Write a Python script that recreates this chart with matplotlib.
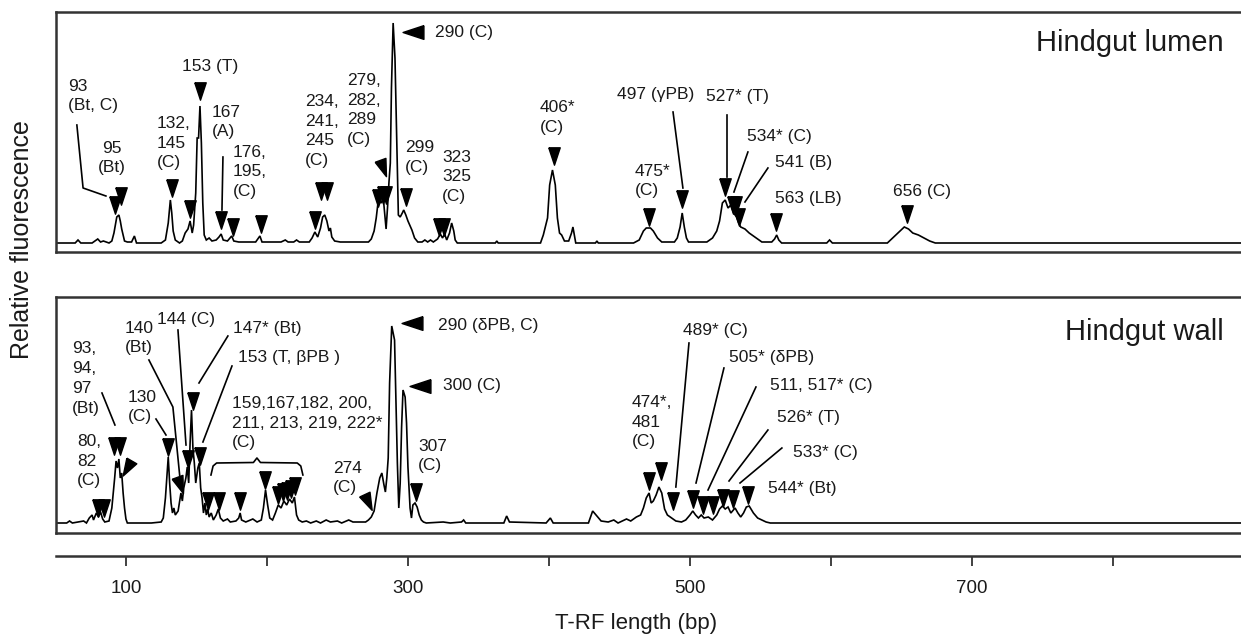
import matplotlib.pyplot as plt
from matplotlib.markers import MarkerStyle
from matplotlib.transforms import Affine2D
import numpy as np

plt.rcParams['font.family'] = ['Liberation Sans', 'DejaVu Sans']

# x range shown (bp)
x_min, x_max = 50.4, 890.8

# ---- Hindgut lumen trace (bp, relative fluorescence)
lumen_bp = [50, 64, 66, 68, 76, 78, 80, 82, 84, 88,
            90, 91.5, 92.5, 93.5, 95, 96, 97, 98, 99, 101, 104, 106, 107.5,
            125, 128, 130, 131.5, 132.5, 133.5, 135, 138, 140, 142, 144, 145.5, 147, 148,
            149.5, 150.5, 151.5, 152.5, 153.5, 154.5, 155.5, 157, 159, 161, 164, 166,
            167.5, 169, 172, 175, 176.5, 180, 186, 192, 195, 196.5, 205, 210, 213, 215,
            219, 221, 223, 230, 232, 234, 236, 238, 239.5, 241, 242.5, 244, 245, 246,
            248, 252, 265, 272, 274, 276, 277.5, 279, 281, 282.5, 283.5, 284.5, 285.5,
            286.5, 287.5, 288.3, 289.5, 290.8, 292.2, 293.2, 294.5, 296, 297, 298.5,
            300, 302.8, 304.7, 307, 310, 312, 314, 316, 318, 321, 323, 324.5, 326,
            327.5, 329.5, 331, 332.5, 333.5, 335, 362, 363, 364, 394, 396, 399, 400.5,
            402.5, 404.5, 406, 407.5, 409, 411, 414, 416, 417, 418, 419, 433, 434, 435,
            460, 464, 467, 469, 472, 474, 477, 480, 489, 491, 493, 494.5, 496, 497.5,
            499, 512, 516, 519, 521, 523, 525, 527, 529, 531, 533, 534.5, 536, 539,
            542, 545, 548, 551, 558, 560, 561.5, 563, 565, 597, 599, 601, 640, 643,
            646, 649, 652, 655, 658, 662, 666, 670, 674, 900]
lumen_rfu = [0, 0, 3, 0, 0, 2, 4, 1, 2, 0,
             2, 10, 18, 26, 28, 22, 14, 8, 2, 1, 1, 7, 0,
             0, 3, 20, 43, 30, 12, 3, 0, 2, 10, 14, 22, 10, 18,
             50, 105, 105, 137, 100, 40, 8, 3, 5, 2, 3, 6,
             9, 3, 2, 7, 2, 1, 1, 1, 7, 1, 1, 1, 3, 1,
             1, 3, 1, 1, 5, 11, 6, 15, 26, 28, 22, 12, 15, 6,
             2, 1, 1, 1, 4, 12, 25, 43, 40, 45, 30, 14, 35,
             60, 80, 155, 220, 185, 95, 28, 26, 30, 33, 28,
             22, 13, 5, 1, 1, 3, 1, 3, 1, 4, 9, 5, 9,
             3, 10, 20, 12, 3, 0, 0, 2, 0, 0, 8, 25, 58,
             73, 58, 25, 10, 8, 2, 2, 10, 16, 8, 0, 0, 2, 0,
             0, 3, 12, 15, 15, 12, 5, 1, 1, 5, 16, 30, 16, 5,
             1, 1, 5, 12, 22, 40, 43, 35, 38, 30, 26, 20, 16, 14,
             10, 7, 4, 1, 1, 4, 8, 3, 0, 0, 3, 0, 0, 4,
             8, 12, 16, 14, 10, 8, 5, 2, 0, 0]

# ---- Hindgut wall trace
wall_bp = [50, 58, 60, 62, 66, 70, 72, 74, 76, 77, 79, 80.5, 82, 83.5, 85, 88,
           90, 91, 92, 93, 94, 95, 96, 97, 98, 99, 100, 101, 118, 125, 126.5, 128,
           129, 130, 131, 132, 133, 134, 135, 137, 139, 140, 141, 142.5, 143.5, 144.5,
           145.5, 146.5, 147.5, 148.5, 149.5, 151, 152, 153, 154, 155, 156, 157, 158,
           159, 160.5, 162, 164, 165.5, 167, 169, 172, 174, 178, 180, 181, 182, 185,
           190, 193, 196, 197.5, 199, 200.5, 202, 204, 206, 208, 210, 212, 214, 216,
           218, 219.5, 221, 222.5, 225, 228, 231, 235, 238, 242, 245, 250, 253, 258,
           261, 266, 270, 272, 274, 276, 278, 280, 281.5, 283, 284, 285, 286, 287,
           288.5, 290.5, 291.5, 292.5, 293.5, 294.5, 295.5, 296.5, 298, 299, 300,
           301.5, 302.5, 303.5, 305, 306.5, 308, 309.5, 311, 313, 325, 330, 338,
           339.5, 341, 368, 370, 372, 398, 401, 403, 428, 431, 434, 437, 442, 446,
           449, 455, 458, 462, 465, 467, 469, 471, 472.5, 474, 476, 478, 480, 482,
           484, 486, 488, 490, 494, 497, 500, 502, 504, 506, 508, 510, 513, 516, 519,
           521, 523, 525, 527, 529, 532, 534, 536, 538, 540, 542, 545, 548, 551, 554,
           557, 900]
wall_rfu = [0, 0, 2, 0, 1, 2, 0, 5, 8, 3, 10, 6, 11, 4, 1, 2,
            15, 30, 45, 62, 55, 64, 45, 50, 30, 15, 4, 0, 0, 1, 5, 25,
            45, 66, 40, 20, 10, 15, 8, 12, 30, 22, 35, 45, 56, 40,
            80, 113, 75, 60, 40, 55, 60, 35, 25, 10, 20, 8, 14,
            6, 10, 3, 8, 14, 5, 2, 4, 1, 2, 5, 10, 3, 1,
            4, 1, 3, 15, 33, 18, 5, 3, 10, 18, 15, 22, 18, 24,
            20, 26, 8, 3, 1, 2, 0, 2, 0, 3, 1, 2, 0, 3,
            1, 1, 1, 3, 6, 12, 30, 45, 50, 38, 31, 45, 65, 140,
            197, 183, 120, 60, 15, 40, 96, 133, 126, 100, 56,
            15, 5, 18, 20, 16, 8, 3, 1, 0, 1, 0, 1,
            3, 0, 0, 7, 1, 0, 5, 0, 0, 12, 7, 2, 1, 3,
            0, 4, 2, 6, 8, 15, 25, 30, 20, 22, 28, 36, 30, 14,
            8, 6, 4, 2, 1, 3, 8, 12, 8, 5, 8, 5, 6, 3, 8,
            14, 17, 14, 16, 10, 15, 10, 6, 10, 16, 17, 10, 5, 3, 1,
            0, 0]

# ---- peak markers (bp, height, rotation in degrees; 0 = pointing down)
lumen_tri_bp = [92.2, 96.5, 132.6, 145.4, 152.5, 167.4, 175.9, 195.7, 234, 238.5,
                242.5, 278.7, 282.3, 284.4, 282.3, 303.5, 298.6, 322, 325.5, 403.5,
                470.9, 494.3, 524.8, 530.5, 532.5, 534.8, 561, 653.9]
lumen_tri_y = [38, 46.5, 54.5, 34, 152, 22.5, 16, 19, 23, 52,
               52, 45, 48, 48, 75, 211, 45.5, 16, 16, 87,
               25.5, 44, 55.5, 37.5, 37.5, 26, 20.5, 29]
lumen_tri_rot = [0, 0, 0, 0, 0, 0, 0, 0, 0, 0,
                 0, 0, 0, 0, 20, -90, 0, 0, 0, 0,
                 0, 0, 0, 0, 0, 0, 0, 0]

wall_tri_bp = [91.5, 95.7, 100.7, 80.1, 84.4, 129.8, 138.3, 144, 147.5, 152.5,
               158.2, 166, 180.9, 198.6, 207.8, 211.3, 214.2, 217, 219.9, 271.6,
               303.2, 308.9, 305.7, 470.9, 479.4, 488, 502.1, 509.2, 516.3, 523.4,
               530.5, 541.1]
wall_tri_y = [77.5, 77.5, 55.5, 15.5, 15.5, 76, 38, 64.5, 122, 67,
              22.5, 22.5, 22.5, 43, 28.5, 31.5, 32, 34, 37, 21.5,
              200, 137, 31.5, 42, 52, 22, 24, 18.5, 18.5, 25.5,
              24, 28]
wall_tri_rot = [0, 0, -30, 0, 0, 0, 20, 0, 0, 0,
                0, 0, 0, 0, 0, 0, 0, 0, 0, 25,
                -90, -90, 0, 0, 0, 0, 0, 0, 0, 0,
                0, 0]

# ---- peak labels (text, bp of left edge, height of block centre, alignment)
lumen_labels = [("93\n(Bt, C)", 58.9, 147, "left"),
                ("95\n(Bt)", 90.1, 85, "center"),
                ("132,\n145\n(C)", 122, 100, "left"),
                ("153 (T)", 139.7, 176, "left"),
                ("167\n(A)", 161, 121, "left"),
                ("176,\n195,\n(C)", 175.9, 71, "left"),
                ("234,\n241,\n245\n(C)", 227, 112, "left"),
                ("279,\n282,\n289\n(C)", 256.7, 133, "left"),
                ("290 (C)", 319.1, 210, "left"),
                ("299\n(C)", 297.9, 85.5, "left"),
                ("323\n325\n(C)", 324.1, 66, "left"),
                ("406*\n(C)", 393.6, 125.5, "left"),
                ("475*\n(C)", 461, 62, "left"),
                ("497 (γPB)", 448.2, 148, "left"),
                ("527* (T)", 511.3, 146, "left"),
                ("534* (C)", 540.4, 106, "left"),
                ("541 (B)", 560.3, 80, "left"),
                ("563 (LB)", 560.3, 44, "left"),
                ("656 (C)", 644, 51, "left")]

wall_labels = [("93,\n94,\n97\n(Bt)", 61.7, 144.5, "left"),
               ("80,\n82\n(C)", 65.2, 62, "left"),
               ("140\n(Bt)", 99.3, 185, "left"),
               ("144 (C)", 122, 204, "left"),
               ("147* (Bt)", 175.9, 195, "left"),
               ("153 (T, βPB )", 179.4, 166, "left"),
               ("130\n(C)", 101.4, 116, "left"),
               ("159,167,182, 200,\n211, 213, 219, 222*\n(C)", 175.2, 100, "left"),
               ("274\n(C)", 246.8, 45, "left"),
               ("290 (δPB, C)", 321.3, 198, "left"),
               ("300 (C)", 324.8, 138, "left"),
               ("307\n(C)", 307.1, 67, "left"),
               ("474*,\n481\n(C)", 458.9, 101, "left"),
               ("489* (C)", 495, 193, "left"),
               ("505* (δPB)", 527.7, 166, "left"),
               ("511, 517* (C)", 556.7, 138, "left"),
               ("526* (T)", 561.7, 106, "left"),
               ("533* (C)", 573, 71, "left"),
               ("544* (Bt)", 555.3, 35, "left")]

# leader lines (bp, height) vertex lists
lumen_leaders = [[(65.2, 118), (69.6, 55), (85.8, 47)],
                 [(168.8, 86), (168.1, 33)],
                 [(488, 131), (495, 55)],
                 [(526.2, 128), (526.2, 66)],
                 [(541.1, 91), (531.2, 51)],
                 [(555.3, 75), (539, 41)]]
wall_leaders = [[(83, 130), (92.2, 98)],
                [(116.3, 163), (133.3, 116), (138.3, 45)],
                [(136.9, 193), (142.6, 78)],
                [(172.3, 187), (151.8, 140)],
                [(175.2, 157), (154.6, 81)],
                [(121.3, 104), (128.4, 88)],
                [(499.3, 180), (490, 36)],
                [(524.1, 155), (504.3, 40)],
                [(546.8, 136), (512.8, 33)],
                [(555.3, 93), (527.7, 42)],
                [(565.2, 75), (535.5, 40)]]

# curly brace over the 159-222 group
brace_lo, brace_hi, brace_y = 160.3, 225.5, 48

x_ticks = [100, 200, 300, 400, 500, 600, 700, 800]
x_ticklabels = ["100", "", "300", "", "500", "", "700", ""]

W, H = 1241, 639
fig = plt.figure(figsize=(W / 100, H / 100), dpi=100)
frame_col = "#333333"
tri = [(-0.33, 0.5), (0.33, 0.5), (0, -0.5), (-0.33, 0.5)]
FS = 12.5


def panel(top, bottom, base, bp, rfu, tb, ty, tr, labels, leaders, title, title_y):
    ax = fig.add_axes([56 / W, 1 - bottom / H, (W - 56) / W, (bottom - top) / H])
    ax.set_xlim(x_min, x_max)
    ax.set_ylim(-(bottom - base), base - top)
    ax.plot(bp, rfu, color="black", lw=1.2, solid_joinstyle="miter")
    for x, y, r in zip(tb, ty, tr):
        ms = MarkerStyle(tri, transform=Affine2D().rotate_deg(r))
        size = 15 if abs(r) == 90 else 12.5
        ax.plot([x], [y], marker=ms, markersize=size, color="black", lw=0)
    for txt, x, y, ha in labels:
        ax.text(x, y, txt, ha=ha, va="center", fontsize=FS, linespacing=1.4,
                color="#1a1a1a")
    for pts in leaders:
        xs, ys = zip(*pts)
        ax.plot(xs, ys, color="black", lw=1.2)
    ax.text(x_max - 12.5, title_y, title, ha="right", va="center", fontsize=21,
            color="#1a1a1a")
    for s in ["top", "bottom", "left"]:
        ax.spines[s].set_color(frame_col)
        ax.spines[s].set_linewidth(1.8)
    ax.spines["right"].set_visible(False)
    ax.set_xticks([])
    ax.set_yticks([])
    return ax


ax1 = panel(12, 252, 243, lumen_bp, lumen_rfu, lumen_tri_bp, lumen_tri_y,
            lumen_tri_rot, lumen_labels, lumen_leaders, "Hindgut lumen", 200)
ax2 = panel(297, 533, 523, wall_bp, wall_rfu, wall_tri_bp, wall_tri_y,
            wall_tri_rot, wall_labels, wall_leaders, "Hindgut wall", 191)

# brace
mid = (brace_lo + brace_hi) / 2
bx = [brace_lo, brace_lo + 1.5, brace_lo + 4, mid - 2.5, mid, mid + 2.5, brace_hi - 4,
      brace_hi - 1.5, brace_hi]
by = [brace_y, brace_y + 9, brace_y + 12, brace_y + 12.5, brace_y + 17, brace_y + 12.5,
      brace_y + 12, brace_y + 9, brace_y]
ax2.plot(bx, by, color="black", lw=1.2)

# shared x axis
axx = fig.add_axes([56 / W, 1 - 556 / H, (W - 56) / W, 0.001])
axx.set_xlim(x_min, x_max)
for s in ["top", "left", "right"]:
    axx.spines[s].set_visible(False)
axx.spines["bottom"].set_color(frame_col)
axx.spines["bottom"].set_linewidth(1.8)
axx.set_yticks([])
axx.set_xticks(x_ticks)
axx.set_xticklabels(x_ticklabels, fontsize=13.5, color="#1a1a1a")
axx.tick_params(axis="x", direction="out", length=7.5, width=1.3, color=frame_col, pad=10)

fig.text(636 / W, 1 - 623 / H, "T-RF length (bp)", ha="center", va="center",
         fontsize=16, color="#1a1a1a")
fig.text(22 / W, 1 - 240 / H, "Relative fluorescence", ha="center", va="center",
         rotation=90, fontsize=18, color="#1a1a1a")

fig.savefig("out.png", dpi=100)
